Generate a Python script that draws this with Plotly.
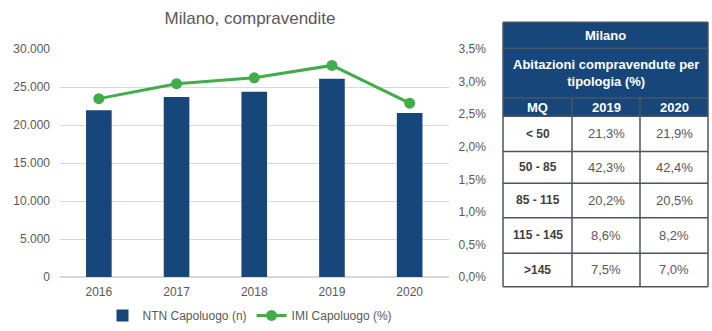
import plotly.graph_objects as go

# Yearly data
years = ["2016", "2017", "2018", "2019", "2020"]
ntn = [21950, 23700, 24400, 26100, 21600]
imi = [2.74, 2.97, 3.06, 3.25, 2.67]

# Table data
table_title = "Milano"
table_subtitle = "Abitazioni compravendute per<br>tipologia (%)"
table_cols = ["MQ", "2019", "2020"]
mq_classes = ["< 50", "50 - 85", "85 - 115", "115 - 145", ">145"]
share_2019 = ["21,3%", "42,3%", "20,2%", "8,6%", "7,5%"]
share_2020 = ["21,9%", "42,4%", "20,5%", "8,2%", "7,0%"]

W, H = 712, 331
BLUE = "#17467A"
GREEN = "#41AD49"
GRAY = "#595959"
DARK = "#404040"
GRID = "#D9D9D9"
BORDER = "#4B5561"
FONT = "Liberation Sans, Arial, sans-serif"


def px_x(x):
    return x / W


def px_y(y):
    return 1 - y / H


fig = go.Figure()

fig.add_trace(go.Bar(
    x=years, y=ntn, name="NTN Capoluogo (n)",
    marker=dict(color=BLUE, line=dict(width=0)),
    width=0.33, yaxis="y",
))
fig.add_trace(go.Scatter(
    x=years, y=imi, name="IMI Capoluogo (%)", mode="lines+markers",
    line=dict(color=GREEN, width=3),
    marker=dict(color=GREEN, size=11),
    yaxis="y2",
))

# ---- side table, laid out in pixel grid ----
col_edges = [503, 572, 640, 708]
title_rows = [16, 43, 95]          # "Milano" row, subtitle row
head_row = [95, 114]               # MQ / 2019 / 2020
data_rows = [114, 151, 184, 220, 257, 292]

shapes = []
# blue header block
shapes.append(dict(type="rect", xref="paper", yref="paper",
                   x0=px_x(col_edges[0]), x1=px_x(col_edges[-1]),
                   y0=px_y(head_row[1]), y1=px_y(title_rows[0]),
                   fillcolor=BLUE, line=dict(width=0), layer="below"))
# horizontal rules
for yy in title_rows + head_row[1:] + data_rows[1:]:
    shapes.append(dict(type="line", xref="paper", yref="paper",
                       x0=px_x(col_edges[0]), x1=px_x(col_edges[-1]),
                       y0=px_y(yy), y1=px_y(yy),
                       line=dict(color=BORDER, width=1.5)))
# outer vertical borders
for xx in (col_edges[0], col_edges[-1]):
    shapes.append(dict(type="line", xref="paper", yref="paper",
                       x0=px_x(xx), x1=px_x(xx),
                       y0=px_y(data_rows[-1]), y1=px_y(title_rows[0]),
                       line=dict(color=BORDER, width=1.5)))
# inner column separators
for xx in col_edges[1:-1]:
    shapes.append(dict(type="line", xref="paper", yref="paper",
                       x0=px_x(xx), x1=px_x(xx),
                       y0=px_y(data_rows[-1]), y1=px_y(head_row[0]),
                       line=dict(color=BORDER, width=1.5)))


def cell_text(text, x0, x1, y0, y1, color, size, bold=False):
    fig.add_annotation(
        text=f"<b>{text}</b>" if bold else text,
        xref="paper", yref="paper",
        x=px_x((x0 + x1) / 2), y=px_y((y0 + y1) / 2),
        xanchor="center", yanchor="middle", align="center", showarrow=False,
        font=dict(color=color, size=size, family=FONT),
    )


tx0, tx1 = col_edges[0], col_edges[-1]
cell_text(table_title, tx0, tx1, title_rows[0], title_rows[1], "white", 13, True)
cell_text(table_subtitle, tx0, tx1, title_rows[1], title_rows[2], "white", 13, True)
for j, name in enumerate(table_cols):
    cell_text(name, col_edges[j], col_edges[j + 1], head_row[0], head_row[1],
              "white", 13, True)
for i in range(len(mq_classes)):
    y0, y1 = data_rows[i], data_rows[i + 1]
    cell_text(mq_classes[i], col_edges[0], col_edges[1], y0, y1, DARK, 12, True)
    cell_text(share_2019[i], col_edges[1], col_edges[2], y0, y1, GRAY, 13)
    cell_text(share_2020[i], col_edges[2], col_edges[3], y0, y1, GRAY, 13)

fig.update_layout(
    width=W, height=H,
    margin=dict(l=0, r=0, t=0, b=0),
    paper_bgcolor="white", plot_bgcolor="white",
    separators=",.",
    font=dict(family=FONT, size=12, color=GRAY),
    shapes=shapes,
    title=dict(text="Milano, compravendite", x=px_x(250), xanchor="center",
               y=px_y(18), yanchor="middle",
               font=dict(size=17, color=GRAY, family=FONT)),
    xaxis=dict(domain=[px_x(60), px_x(448.5)], showgrid=False, showline=False,
               ticks="", tickfont=dict(size=12, color=GRAY), ticklabelstandoff=6),
    yaxis=dict(domain=[px_y(282), px_y(44)], range=[0, 30000], dtick=5000,
               tickformat=",.0f", showgrid=True, gridcolor=GRID, gridwidth=1,
               zeroline=True, zerolinecolor=GRID, showline=False, ticks="",
               tickfont=dict(size=12, color=GRAY), ticklabelstandoff=9),
    yaxis2=dict(overlaying="y", side="right", range=[0, 3.5], dtick=0.5,
                tickformat=".1f", ticksuffix="%", showgrid=False, zeroline=False,
                showline=False, ticks="", tickfont=dict(size=12, color=GRAY),
                ticklabelstandoff=9, anchor="x"),
    legend=dict(orientation="h", x=px_x(250), xanchor="center", y=px_y(322),
                yanchor="middle", font=dict(size=12, color=GRAY),
                itemwidth=30, traceorder="normal"),
    bargap=0.6,
)

fig.write_html("out.html")
